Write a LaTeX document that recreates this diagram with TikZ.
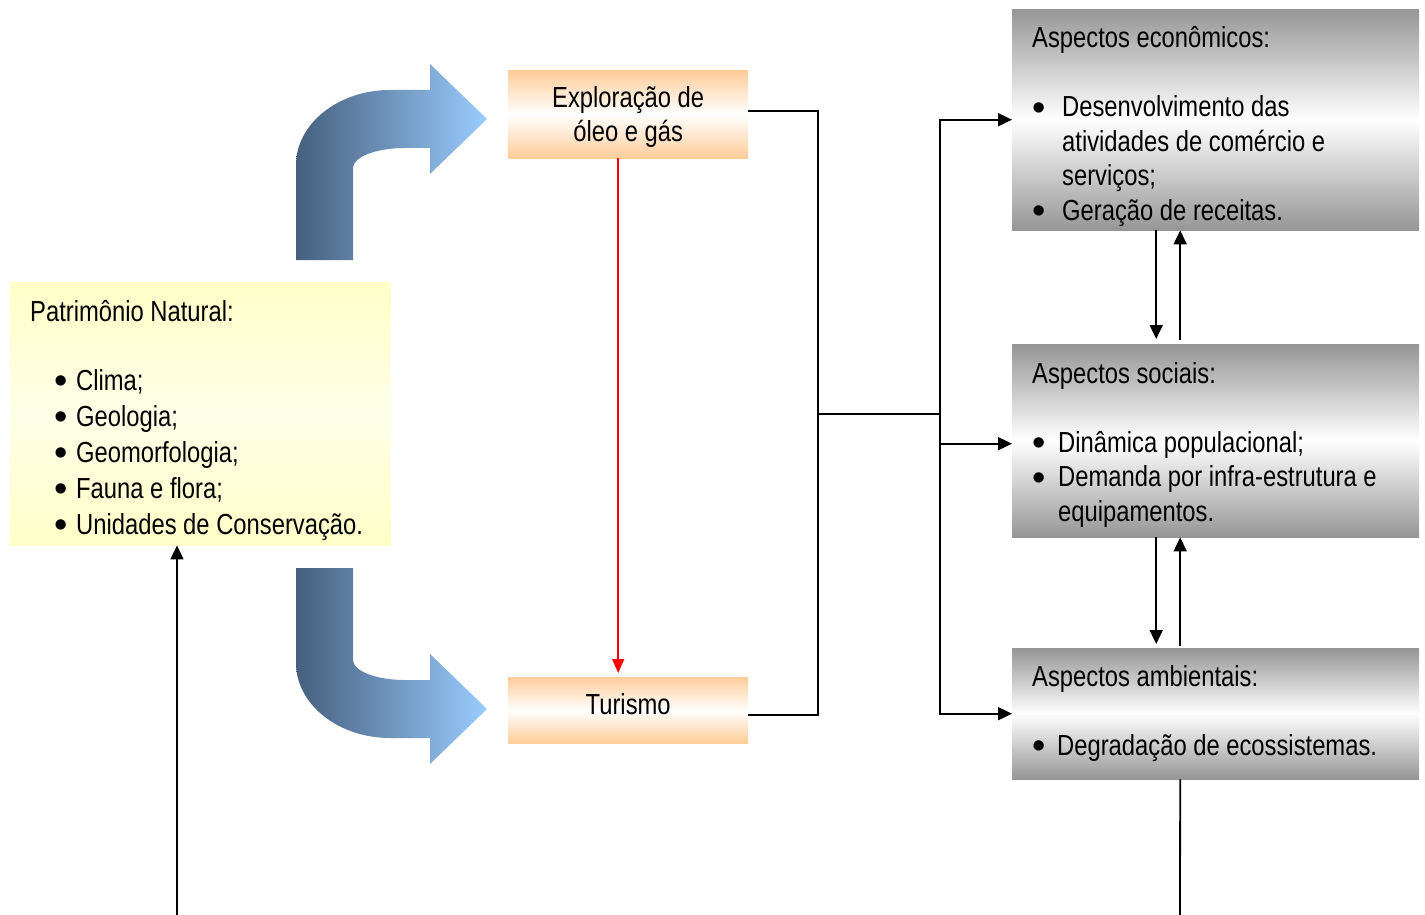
\documentclass[tikz,border=0pt]{standalone}
\usepackage{fontspec}
\setmainfont{Liberation Sans}[FakeStretch=0.82]
\newfontfamily\bulletfont{Liberation Sans}
\newcommand\blt{\raisebox{-3.5pt}{\bulletfont\fontsize{38}{0}\selectfont\textbullet}}
\usetikzlibrary{arrows.meta}
\definecolor{bluedark}{RGB}{70,95,125}
\definecolor{bluelight}{RGB}{153,204,255}
\definecolor{orangebox}{RGB}{255,204,153}
\definecolor{yellowbox}{RGB}{255,255,200}
\definecolor{yellowmid}{RGB}{255,255,232}
\definecolor{graybox}{RGB}{150,150,150}
\begin{document}
\begin{tikzpicture}[x=1pt,y=-1pt,
  boxbase/.style={draw=none,inner sep=0pt,anchor=north west,rectangle},
  graybg/.style={boxbase,top color=graybox,bottom color=graybox,middle color=white},
  orangebg/.style={boxbase,top color=orangebox,bottom color=orangebox,middle color=white,align=center,font=\fontsize{29}{34}\selectfont},
  yellowbg/.style={boxbase,top color=yellowbox,bottom color=yellowbox,middle color=yellowmid},
  txt/.style={inner sep=0pt,anchor=base west},
  conn/.style={line width=1.8pt,-{Triangle[length=14pt,width=13pt]}},
  plain/.style={line width=1.8pt},
  bigarrow/.style={left color=bluedark,right color=bluelight,draw=none}
]
\useasboundingbox (0,0) rectangle (1425,915);

% big curved arrows
\shade[bigarrow] (296,260) -- (296,165) .. controls (296,124) and (338,90) .. (390,90)
  -- (430,90) -- (430,64) -- (487,119) -- (430,174) -- (430,148) -- (405,148)
  .. controls (376,148) and (353,157) .. (353,168) -- (353,260) -- cycle;
\shade[bigarrow] (296,568) -- (296,663) .. controls (296,704) and (338,738) .. (390,738)
  -- (430,738) -- (430,764) -- (487,709) -- (430,654) -- (430,680) -- (405,680)
  .. controls (376,680) and (353,671) .. (353,660) -- (353,568) -- cycle;

% boxes
\node[yellowbg,minimum width=381pt,minimum height=263pt] (pn) at (10,282) {};
\node[orangebg,minimum width=240pt,minimum height=88pt,text depth=0pt] (expl) at (508,70) {Exploração de\\óleo e gás};
\node[orangebg,minimum width=240pt,minimum height=66pt,text depth=12pt] (tur) at (508,677) {Turismo};
\node[graybg,minimum width=407pt,minimum height=221pt] (econ) at (1012,9) {};
\node[graybg,minimum width=407pt,minimum height=193pt] (soc) at (1012,344) {};
\node[graybg,minimum width=407pt,minimum height=131pt] (amb) at (1012,648) {};

% texts
\node[txt] (pntext) at (30,321) {\parbox[t]{360pt}{\fontsize{29}{36}\selectfont
  Patrimônio Natural:\\[33pt]
  \hspace*{24pt}\makebox[22pt][l]{\blt}Clima;\\
  \hspace*{24pt}\makebox[22pt][l]{\blt}Geologia;\\
  \hspace*{24pt}\makebox[22pt][l]{\blt}Geomorfologia;\\
  \hspace*{24pt}\makebox[22pt][l]{\blt}Fauna e flora;\\
  \hspace*{24pt}\makebox[22pt][l]{\blt}Unidades de Conservação.}};
\node[txt] (econtext) at (1032,48) {\parbox[t]{385pt}{\fontsize{29}{34.5}\selectfont
  Aspectos econômicos:\\[34.5pt]
  \makebox[30pt][l]{\blt}Desenvolvimento das\\
  \hspace*{30pt}atividades de comércio e\\
  \hspace*{30pt}serviços;\\
  \makebox[30pt][l]{\blt}Geração de receitas.}};
\node[txt] (soctext) at (1032,383) {\parbox[t]{385pt}{\fontsize{29}{34.5}\selectfont
  Aspectos sociais:\\[34.5pt]
  \makebox[26pt][l]{\blt}Dinâmica populacional;\\
  \makebox[26pt][l]{\blt}Demanda por infra-estrutura e\\
  \hspace*{26pt}equipamentos.}};
\node[txt] (ambtext) at (1032,686) {\parbox[t]{385pt}{\fontsize{29}{34.5}\selectfont
  Aspectos ambientais:\\[34.5pt]
  \makebox[25pt][l]{\blt}Degradação de ecossistemas.}};

% connectors
\coordinate (c1) at (818,414);
\coordinate (c2) at (940,414);
\coordinate (e1) at (1180,915);
\coordinate (e2) at (177,915);
\draw[plain] ([yshift=3pt]expl.east) -| (c1) |- ([yshift=-5pt]tur.east);
\draw[plain] (c1) -- (c2);
\draw[conn] (c2) |- (econ.west);
\draw[conn] (c2) |- ([yshift=-3pt]soc.west);
\draw[conn] (c2) |- (amb.west);
\draw[red,line width=1.5pt,-{Triangle[length=14pt,width=12pt]},shorten >=4pt] ([xshift=-10pt]expl.south) -- ([xshift=-10pt]tur.north);
\draw[conn,shorten >=5pt] ([xshift=-59.5pt]econ.south) -- ([xshift=-59.5pt]soc.north);
\draw[conn,shorten <=4pt] ([xshift=-35.5pt]soc.north) -- ([xshift=-35.5pt]econ.south);
\draw[conn,shorten >=4pt] ([xshift=-59.5pt]soc.south) -- ([xshift=-59.5pt]amb.north);
\draw[conn,shorten <=2pt] ([xshift=-35.5pt]amb.north) -- ([xshift=-35.5pt]soc.south);
\draw[plain] ([xshift=-35.5pt]amb.south) -- (e1);
\draw[conn] (e2) -- (e2 |- pn.south);
\end{tikzpicture}
\end{document}
